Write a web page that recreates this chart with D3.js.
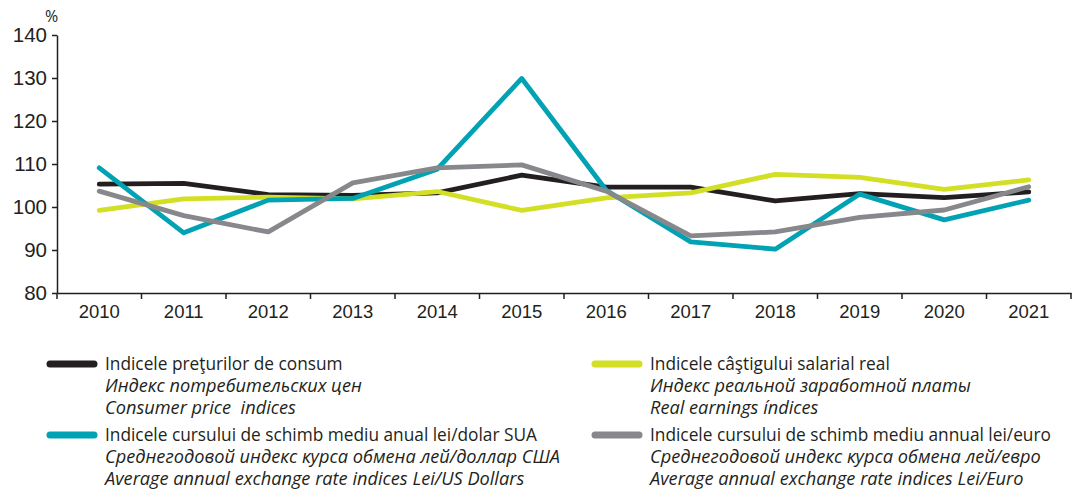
<!DOCTYPE html>
<html>
<head>
<meta charset="utf-8">
<script src="https://cdn.jsdelivr.net/npm/d3@7"></script>
<style>
  body { margin: 0; background: #fff; }
  svg { font-family: "Open Sans", "Noto Sans", sans-serif; }
</style>
</head>
<body>
<div class="chart"></div>
<script>
const years = ["2010", "2011", "2012", "2013", "2014", "2015", "2016", "2017", "2018", "2019", "2020", "2021"];
const yTicks = [80, 90, 100, 110, 120, 130, 140];

const cpi = [105.3, 105.5, 102.9, 102.7, 103.3, 107.4, 104.6, 104.6, 101.4, 103.1, 102.2, 103.5];
const realEarnings = [99.2, 101.9, 102.3, 101.9, 103.6, 99.2, 102.1, 103.3, 107.6, 106.9, 104.1, 106.3];
const usdRate = [109.1, 94.0, 101.6, 102.0, 108.8, 129.9, 103.9, 91.9, 90.2, 103.0, 97.0, 101.6];
const eurRate = [103.7, 98.0, 94.2, 105.6, 109.1, 109.8, 103.7, 93.3, 94.2, 97.6, 99.3, 104.7];

const series = [
  { values: cpi, color: "#231f20",
    label: ["Indicele preţurilor de consum", "Индекс потребительских цен", "Consumer price  indices"] },
  { values: realEarnings, color: "#d3df25",
    label: ["Indicele câştigului salarial real", "Индекс реальной заработной платы", "Real earnings índices"] },
  { values: usdRate, color: "#00a2b4",
    label: ["Indicele cursului de schimb mediu anual lei/dolar SUA", "Среднегодовой индекс курса обмена лей/доллар США", "Average annual exchange rate indices Lei/US Dollars"] },
  { values: eurRate, color: "#87888b",
    label: ["Indicele cursului de schimb mediu annual lei/euro", "Среднегодовой индекс курса обмена лей/евро", "Average annual exchange rate indices Lei/Euro"] }
];

const width = 1082, height = 490;
const margin = { top: 35, left: 57, right: 11 };
const plotBottom = 293;

const svg = d3.select(".chart").append("svg")
  .attr("width", width)
  .attr("height", height);

const x = d3.scaleBand()
  .domain(years)
  .range([margin.left, width - margin.right]);

const y = d3.scaleLinear()
  .domain([80, 140])
  .range([plotBottom, margin.top]);

// axes
const yAxis = svg.append("g")
  .attr("transform", `translate(${margin.left},0)`)
  .call(d3.axisLeft(y).tickValues(yTicks).tickSize(5).tickPadding(5).tickSizeOuter(0));
yAxis.select(".domain").attr("stroke", "#231f20").attr("stroke-width", 1.5);
yAxis.selectAll(".tick line").attr("stroke", "#231f20").attr("stroke-width", 1.5);
yAxis.selectAll(".tick text").attr("font-size", 20.5).attr("fill", "#231f20");

const xAxis = svg.append("g")
  .attr("transform", `translate(0,${plotBottom})`)
  .call(d3.axisBottom(x).tickSize(0).tickPadding(12));
xAxis.select(".domain").attr("stroke", "#231f20").attr("stroke-width", 1.5);
xAxis.selectAll(".tick text").attr("font-size", 18.5).attr("fill", "#231f20");

// tick marks at band boundaries
const bounds = years.map(d => x(d)).concat([x.range()[1]]);
svg.append("g")
  .selectAll("line")
  .data(bounds)
  .enter()
  .append("line")
  .attr("x1", d => d).attr("x2", d => d)
  .attr("y1", plotBottom).attr("y2", plotBottom + 6)
  .attr("stroke", "#231f20")
  .attr("stroke-width", 1.5);

svg.append("text")
  .attr("x", 45).attr("y", 22)
  .attr("font-size", 16)
  .attr("fill", "#231f20")
  .text("%");

// lines
const line = d3.line()
  .x((d, i) => x(years[i]) + x.bandwidth() / 2)
  .y(d => y(d));

svg.append("g")
  .selectAll("path")
  .data(series)
  .enter()
  .append("path")
  .attr("d", d => line(d.values))
  .attr("fill", "none")
  .attr("stroke", d => d.color)
  .attr("stroke-width", 4.8)
  .attr("stroke-linejoin", "round")
  .attr("stroke-linecap", "round");

// legend
const legendPos = [
  { x: 50, y: 364 }, { x: 595, y: 364 },
  { x: 50, y: 435 }, { x: 595, y: 435 }
];

const legend = svg.append("g")
  .selectAll("g")
  .data(series)
  .enter()
  .append("g")
  .attr("transform", (d, i) => `translate(${legendPos[i].x},${legendPos[i].y})`);

legend.append("line")
  .attr("x1", 0).attr("x2", 44)
  .attr("y1", 0).attr("y2", 0)
  .attr("stroke", d => d.color)
  .attr("stroke-width", 7)
  .attr("stroke-linecap", "round");

legend.each(function (d) {
  const g = d3.select(this);
  d.label.forEach((t, j) => {
    g.append("text")
      .attr("x", 55)
      .attr("y", 6 + j * 22)
      .attr("font-size", j === 0 ? 17.3 : 18.2)
      .attr("font-style", j === 0 ? "normal" : "italic")
      .attr("fill", "#231f20")
      .style("white-space", "pre")
      .text(t);
  });
});
</script>
</body>
</html>
